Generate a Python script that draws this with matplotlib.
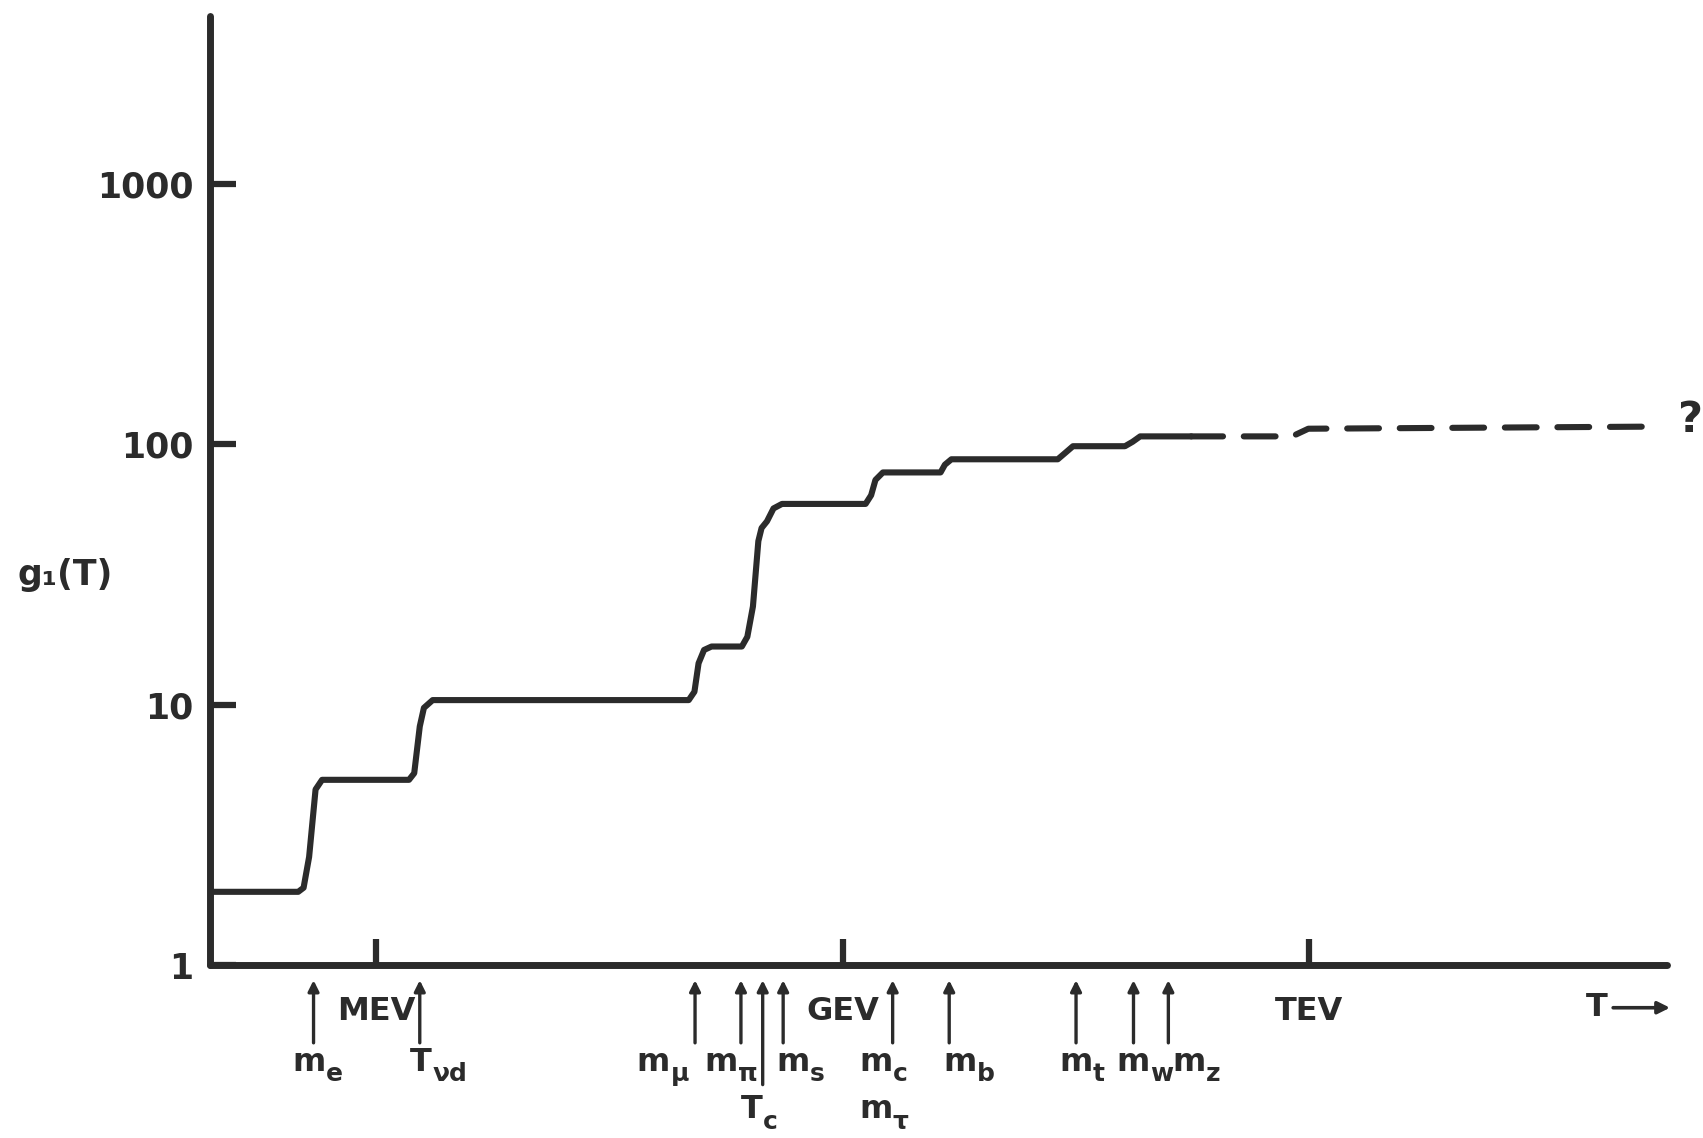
import matplotlib
matplotlib.use("Agg")
import matplotlib.pyplot as plt

INK = "#2b2b2b"

# g(T) curve, T in GeV (solid part)
t_solid = [8.5e-5, 3.14e-4, 3.40e-4, 3.69e-4, 4.06e-4, 4.47e-4,
           1.62e-3, 1.75e-3, 1.90e-3, 2.02e-3, 2.30e-3,
           0.102, 0.111, 0.118, 0.128, 0.143,
           0.224, 0.243, 0.264, 0.286, 0.300, 0.325, 0.358, 0.406,
           1.40, 1.52, 1.62, 1.81,
           4.25, 4.53, 4.99,
           24.1, 27.0, 30.2,
           65.2, 73.0, 81.7, 174.0]
g_solid = [1.91, 1.91, 1.98, 2.60, 4.72, 5.14,
           5.14, 5.45, 8.24, 9.71, 10.4,
           10.4, 11.2, 14.4, 16.2, 16.7,
           16.7, 18.2, 23.8, 42.4, 47.6, 50.5, 56.6, 58.9,
           58.9, 63.6, 72.8, 77.8,
           77.8, 83.3, 87.4,
           87.4, 92.6, 98.1,
           98.1, 102.0, 107.0, 107.0]

# dashed continuation above the electroweak scale
t_dash = [174.0, 774.0, 986.0, 1.83e5]
g_dash = [107.0, 107.0, 114.5, 116.7]

# axis ticks
x_ticks = [1e-3, 1.0, 1e3]
x_tick_labels = ["MEV", "GEV", "TEV"]
y_ticks = [1, 10, 100, 1000]
y_tick_labels = ["1", "10", "100", "1000"]

# mass thresholds marked with arrows under the axis (GeV)
thr_t = [3.94e-4, 1.90e-3, 0.112, 0.221, 0.305, 0.413, 2.09, 4.83, 31.6, 74.0, 124.0]
thr_base = ["m", "T", "m", "m", "T", "m", "m", "m", "m", "m", "m"]
thr_sub = ["e", "νd", "μ", "π", "c", "s", "c", "b", "t", "w", "z"]
# label x offsets (points) and whether the label sits in the lower row
thr_dx = [-15, -7, -42, -26, -16, -5, -24, -4, -12, -12, 3]
thr_low = [False, False, False, False, True, False, False, False, False, False, False]

fig = plt.figure(figsize=(17.03, 11.38), dpi=100)
fig.patch.set_facecolor("white")
ax = fig.add_axes([0.1233, 0.152, 0.8556, 0.834])

ax.plot(t_solid, g_solid, color=INK, lw=4.4, solid_capstyle="round",
        solid_joinstyle="round", zorder=3)
ax.plot(t_dash, g_dash, color=INK, lw=4.4, linestyle=(0, (5.2, 3.4)),
        dash_capstyle="round", zorder=3)

ax.set_xscale("log")
ax.set_yscale("log")
ax.set_xlim(8.5e-5, 2.0e5)
ax.set_ylim(1, 4400)

for s in ["top", "right"]:
    ax.spines[s].set_visible(False)
for s in ["left", "bottom"]:
    ax.spines[s].set_linewidth(5)
    ax.spines[s].set_color(INK)
    ax.spines[s].set_capstyle("round")

ax.set_xticks(x_ticks)
ax.set_xticklabels(x_tick_labels)
ax.set_yticks(y_ticks)
ax.set_yticklabels(y_tick_labels)
ax.minorticks_off()
ax.tick_params(axis="both", direction="in", length=19, width=4.5, color=INK)
ax.tick_params(axis="x", pad=22, labelsize=23, labelcolor=INK)
ax.tick_params(axis="y", pad=12, labelsize=25, labelcolor=INK)
for lab in ax.get_xticklabels() + ax.get_yticklabels():
    lab.set_fontweight("bold")

# y axis title
fig.text(0.038, 1 - 575 / 1138, "g₁(T)", fontsize=25, color=INK,
         fontweight="bold", ha="center", va="center")

xt = ax.get_xaxis_transform()


def sub_label(t, y, base, sub, dx):
    # letter plus a big hand-lettered style subscript
    b = ax.annotate(base, xy=(t, y), xycoords=xt, xytext=(dx, 0),
                    textcoords="offset points", ha="left", va="top",
                    fontsize=23, fontweight="bold", color=INK,
                    annotation_clip=False)
    ax.annotate(sub, xy=(1.0, 0.5), xycoords=b, xytext=(0.3, 0),
                textcoords="offset points", ha="left", va="top",
                fontsize=18, fontweight="bold", color=INK,
                annotation_clip=False)


# threshold arrows and labels
for t, base, sub, dx, low in zip(thr_t, thr_base, thr_sub, thr_dx, thr_low):
    tail = -0.126 if low else -0.082
    ax.annotate("", xy=(t, -0.016), xytext=(t, tail), xycoords=xt,
                arrowprops=dict(arrowstyle="-|>", lw=2.4, color=INK,
                                mutation_scale=16, shrinkA=0, shrinkB=0),
                annotation_clip=False)
    sub_label(t, -0.136 if low else -0.086, base, sub, dx)

# m_tau shares the m_c arrow
sub_label(thr_t[6], -0.136, "m", "τ", -24)

# "T ->" at the end of the axis
ax.text(0.952, -0.045, "T", transform=ax.transAxes, fontsize=23,
        fontweight="bold", color=INK, ha="center", va="center")
ax.annotate("", xy=(1.002, -0.045), xytext=(0.963, -0.045),
            xycoords="axes fraction",
            arrowprops=dict(arrowstyle="-|>", lw=2.6, color=INK,
                            mutation_scale=18, shrinkA=0, shrinkB=0),
            annotation_clip=False)

# question mark after the dashed line
ax.annotate("?", xy=(t_dash[-1], g_dash[-1]), xytext=(12, 5),
            textcoords="offset points", fontsize=31, fontweight="bold",
            color=INK, ha="left", va="center", annotation_clip=False)

fig.savefig("out.png", dpi=100, facecolor="white")
